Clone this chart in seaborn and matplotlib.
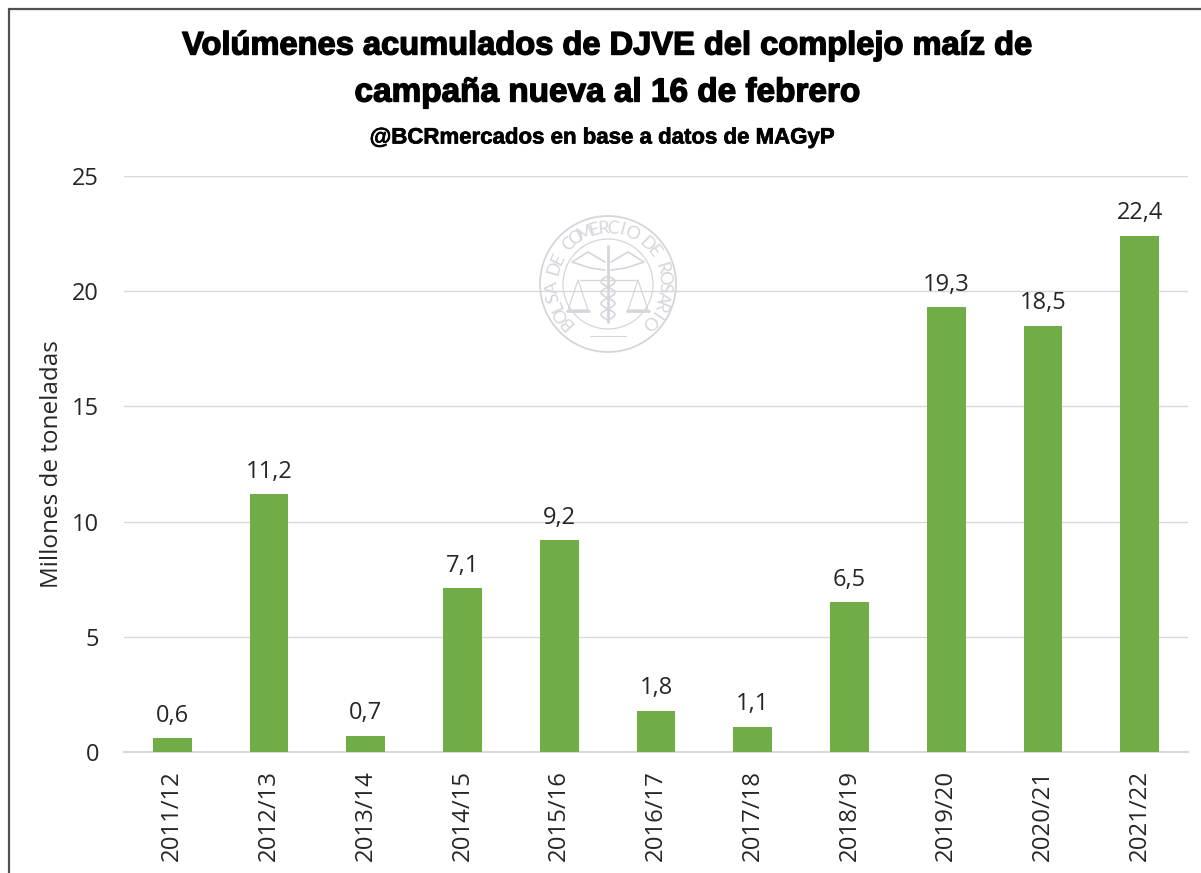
import matplotlib
matplotlib.use("Agg")
import matplotlib.pyplot as plt
import matplotlib.patches as mpatches
import matplotlib.patheffects as pe
from matplotlib.lines import Line2D
from matplotlib.transforms import IdentityTransform
import numpy as np
import pandas as pd
import seaborn as sns

campanas = ["2011/12", "2012/13", "2013/14", "2014/15", "2015/16", "2016/17",
            "2017/18", "2018/19", "2019/20", "2020/21", "2021/22"]
volumenes = [0.6, 11.2, 0.7, 7.1, 9.2, 1.8, 1.1, 6.5, 19.3, 18.5, 22.4]
etiquetas = ["0,6", "11,2", "0,7", "7,1", "9,2", "1,8", "1,1", "6,5", "19,3", "18,5", "22,4"]
y_ticks = [0, 5, 10, 15, 20, 25]

W, H = 1201, 873
TEXTO = "#262626"
SELLO = "#D3D6DB"

sns.set_theme(style="white")
plt.rcParams["font.family"] = ["Open Sans", "DejaVu Sans"]

df = pd.DataFrame({"campana": campanas, "volumen": volumenes})

fig = plt.figure(figsize=(W / 100, H / 100), dpi=100)
ax = fig.add_axes([124 / W, 1 - 752 / H, (1188 - 124) / W, (752 - 176) / H])
ax.patch.set_alpha(0)

sns.barplot(data=df, x="campana", y="volumen", color="#70AD47", saturation=1,
            width=0.40, linewidth=0, ax=ax, zorder=3)

ax.set_ylim(0, 25)
ax.set_yticks(y_ticks)
ax.set_yticklabels([str(t) for t in y_ticks], fontsize=17, color=TEXTO)
ax.grid(axis="y", color="#D9D9D9", linewidth=1)
ax.set_axisbelow(True)
ax.tick_params(axis="x", labelrotation=90, labelsize=17.3, labelcolor=TEXTO, length=0, pad=13)
ax.tick_params(axis="y", length=0, pad=18)
ax.set_xlabel("")
ax.set_ylabel("Millones de toneladas", fontsize=17.5, color=TEXTO, labelpad=6)
sns.despine(ax=ax, left=True)
ax.spines["bottom"].set_color("#D9D9D9")
ax.spines["bottom"].set_linewidth(1.5)

for i, (v, e) in enumerate(zip(volumenes, etiquetas)):
    ax.annotate(e, (i, v), xytext=(0, 7.5), textcoords="offset points", ha="center",
                va="bottom", fontsize=17, color=TEXTO)


def linea(xs, ys, lw=1.0):
    # coordenadas en pixeles de la imagen, y hacia abajo
    fig.add_artist(Line2D(xs, [H - y for y in ys], transform=IdentityTransform(),
                          color=SELLO, linewidth=lw, zorder=1))


# marco de la imagen
linea([9, 9], [9, H], 1.6)
linea([9, W], [9, 9], 1.6)
fig.artists[-1].set_color("#505050")
fig.artists[-2].set_color("#505050")

# sello de agua
cx, cy = 608, 284
for r, lw in [(68, 1.3), (45, 0.9)]:
    fig.add_artist(mpatches.Circle((cx, H - cy), r, transform=IdentityTransform(), fill=False,
                                   edgecolor=SELLO, linewidth=lw, zorder=1))
leyenda = "BOLSA DE COMERCIO DE ROSARIO"
for ang, letra in zip(np.linspace(-133, 133, len(leyenda)), leyenda):
    t = np.radians(ang)
    fig.text((cx + 56 * np.sin(t)) / W, 1 - (cy - 56 * np.cos(t)) / H, letra, rotation=-ang,
             rotation_mode="anchor", ha="center", va="center", fontsize=13, color=SELLO,
             family=["Lato", "DejaVu Sans"])
# baston, alas y balanzas
linea([cx, cx], [246, 322], 2)
for s in (-1, 1):
    linea([cx + s * 3, cx + s * 20, cx + s * 36, cx + s * 18, cx + s * 3],
          [262, 252, 262, 268, 270], 1.2)
    linea([cx, cx + s * 28], [280, 280], 0.9)
    bx = cx + s * 30
    linea([bx, bx - 10, bx + 10, bx], [280, 310, 310, 280], 0.9)
    linea([bx - 11, bx + 11], [311, 311], 2)
ondas = np.linspace(0, 1, 40)
linea(cx + 7 * np.sin(ondas * 4 * np.pi), 276 + ondas * 44, 1.2)
linea(cx - 7 * np.sin(ondas * 4 * np.pi), 276 + ondas * 44, 1.2)
linea([cx - 18, cx + 18], [336, 336], 0.8)

titulo = dict(ha="center", va="center", color="black", fontweight="bold",
              family=["Liberation Sans", "DejaVu Sans"],
              path_effects=[pe.withStroke(linewidth=1.0, foreground="black")])
fig.text(607 / W, 1 - 46 / H, "Volúmenes acumulados de DJVE del complejo maíz de", fontsize=23.5, **titulo)
fig.text(608 / W, 1 - 93 / H, "campaña nueva al 16 de febrero", fontsize=24, **titulo)
fig.text(602 / W, 1 - 138 / H, "@BCRmercados en base a datos de MAGyP", fontsize=16,
         **{**titulo, "path_effects": [pe.withStroke(linewidth=0.5, foreground="black")]})

fig.savefig("out.png", dpi=100, facecolor="white")
